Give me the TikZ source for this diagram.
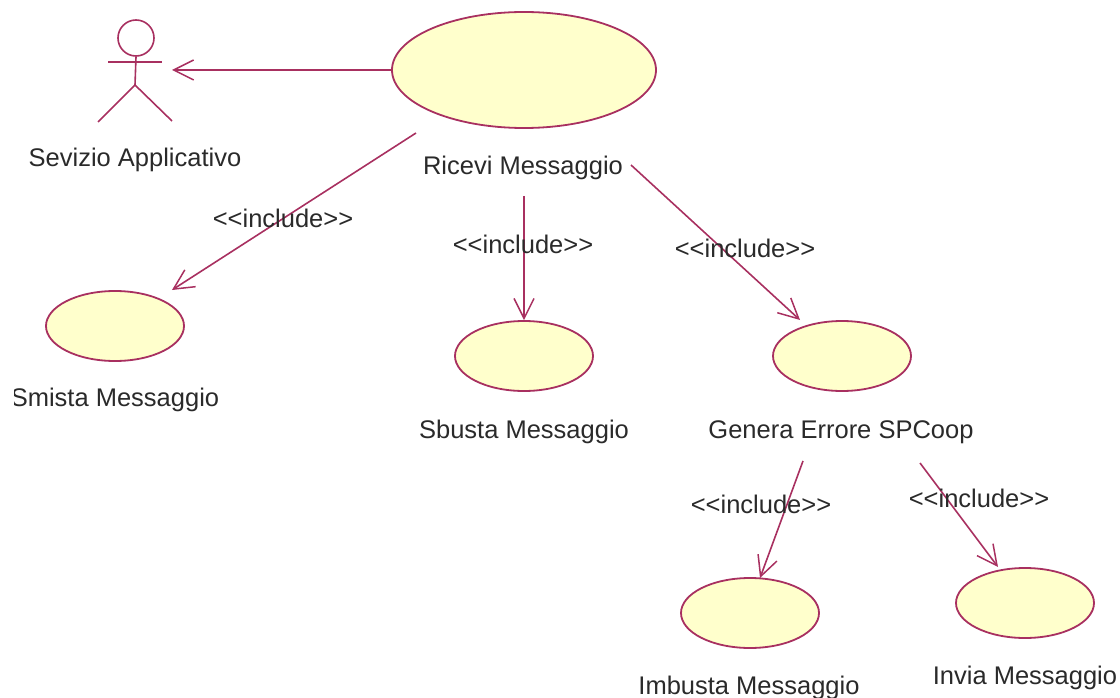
\documentclass[tikz,border=0pt]{standalone}
\usepackage{fontspec}
\setmainfont{Liberation Sans}
\usetikzlibrary{arrows.meta,shapes.geometric}

\begin{document}
\begin{tikzpicture}
  [
    x                  = 1pt,
    y                  = -1pt,
    umlline/.style     = {draw=umlred, line width=1.6pt},
    usecase/.style     = {ellipse, draw=umlred, fill=umlfill, line width=1.8pt, inner sep=0pt},
    smallcase/.style   = {usecase, minimum width=138pt, minimum height=70pt},
    include/.style     = {umlline, -{Straight Barb[length=20pt, width=20pt, line width=1.5pt]}},
    caption/.style     = {font=\fontsize{25.5}{28}\selectfont, text=umltext, inner sep=0pt},
    stereo/.style      = {caption}
  ]
  \definecolor{umlred}{HTML}{A83060}
  \definecolor{umlfill}{HTML}{FFFFCC}
  \definecolor{umltext}{HTML}{2A2A2A}
  \useasboundingbox (0,0) rectangle (1120,698);

  % use cases
  \node [usecase, minimum width=264pt, minimum height=116pt] (ricevi) at (524,70) {};
  \node [smallcase] (smista)  at (115,326) {};
  \node [smallcase] (sbusta)  at (524,356) {};
  \node [smallcase] (genera)  at (842,356) {};
  \node [smallcase] (imbusta) at (750,613) {};
  \node [smallcase] (invia)   at (1025,603) {};

  % captions
  \node [caption] (riceviText)  at (523,168) {Ricevi Messaggio};
  \node [caption] (smistaText)  at (115,400) {Smista Messaggio};
  \node [caption] (sbustaText)  at (524,432) {Sbusta Messaggio};
  \node [caption] (generaText)  at (841,432) {Genera Errore SPCoop};
  \node [caption] (imbustaText) at (749,688) {Imbusta Messaggio};
  \node [caption] (inviaText)   at (1025,678) {Invia Messaggio};
  \node [caption] (actorText)   at (135,160) {Sevizio Applicativo};
  \fill [white] (0,380) rectangle (14,416);

  % actor
  \node [circle, umlline, minimum size=36pt, inner sep=0pt] (actor) at (136,38) {};
  \coordinate (hip)      at (135,85);
  \coordinate (armLeft)  at (108,62);
  \coordinate (armRight) at (162,62);
  \coordinate (footLeft) at (98,122);
  \coordinate (footRight) at (172,121);
  \draw [umlline] (actor.south) -- (hip);
  \draw [umlline] (armLeft) -- (armRight);
  \draw [umlline] (footLeft) -- (hip) -- (footRight);

  % free ends of the connectors
  \coordinate (actorEnd)   at (172,70);
  \coordinate (smistaFrom) at (416,133);
  \coordinate (smistaEnd)  at (172,290);
  \coordinate (sbustaFrom) at (524,196);
  \coordinate (generaFrom) at (631,165);
  \coordinate (generaEnd)  at (800,320);
  \coordinate (imbustaFrom) at (803,461);
  \coordinate (imbustaEnd) at (760,578);
  \coordinate (inviaFrom)  at (920,463);
  \coordinate (inviaEnd)   at (998,567);

  % connectors
  \draw [include] (ricevi.west) -- (actorEnd);
  \draw [include] (smistaFrom) -- (smistaEnd);
  \draw [include] (sbustaFrom) -- (sbusta.north);
  \draw [include] (generaFrom) -- (generaEnd);
  \draw [include] (imbustaFrom) -- (imbustaEnd);
  \draw [include] (inviaFrom) -- (inviaEnd);

  % stereotypes
  \node [stereo] (includeSmista)  at (283,218) {<{}<include>{}>};
  \node [stereo] (includeSbusta)  at (523,244) {<{}<include>{}>};
  \node [stereo] (includeGenera)  at (745,248) {<{}<include>{}>};
  \node [stereo] (includeImbusta) at (761,504) {<{}<include>{}>};
  \node [stereo] (includeInvia)   at (979,498) {<{}<include>{}>};
\end{tikzpicture}
\end{document}
